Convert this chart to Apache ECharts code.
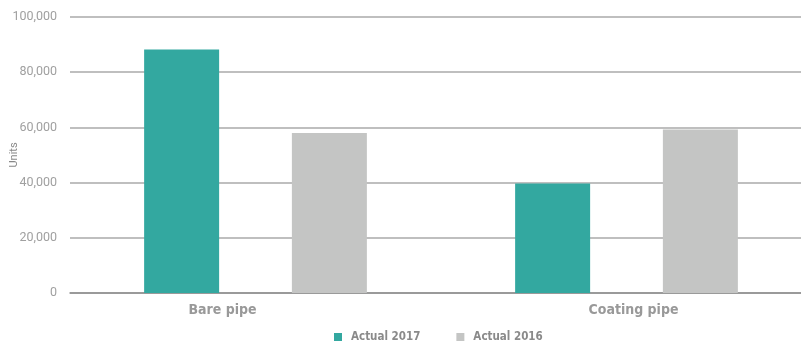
<!DOCTYPE html>
<html>
<head>
<meta charset="utf-8">
<script src="https://cdn.jsdelivr.net/npm/echarts@6/dist/echarts.min.js"></script>
<style>
  html, body { margin: 0; padding: 0; background: #fff; }
  #chart { width: 801px; height: 341px; }
</style>
</head>
<body>
<div id="chart"></div>
<script>
// Units by product type, 2017 vs 2016
const categories = ['Bare pipe', 'Coating pipe'];
const actual2017 = [88200, 39700];
const actual2016 = [58000, 59200];
const yTicks = [0, 20000, 40000, 60000, 80000, 100000];

const teal = '#33A8A0';
const grey = '#C4C5C4';
const condensed = '"Liberation Sans Narrow", "DejaVu Sans Condensed", "Roboto Condensed", sans-serif';

const chart = echarts.init(document.getElementById('chart'));
chart.setOption({
  animation: false,
  grid: { left: 70, right: -11, top: 17, bottom: 48, containLabel: false, outerBoundsMode: 'none' },
  legend: {
    data: ['Actual 2017', 'Actual 2016'],
    top: 331,
    left: 334,
    padding: 0,
    itemWidth: 8,
    itemHeight: 8,
    itemGap: 36,
    icon: 'rect',
    textStyle: { fontFamily: condensed, fontWeight: 'bold', fontSize: 11.5, color: '#8a8a8a', padding: [0, 0, 0, 4] }
  },
  xAxis: {
    type: 'category',
    data: categories,
    axisLine: { lineStyle: { color: '#8f8f8f', width: 1.5 } },
    axisTick: { inside: true, length: 5, lineStyle: { color: '#8f8f8f' } },
    axisLabel: {
      margin: 10,
      formatter: function (v, i) { return '{c' + i + '|' + v + '}'; },
      rich: {
        c0: { fontFamily: condensed, fontWeight: 'bold', fontSize: 14, color: '#999', padding: [0, 66, 0, 0] },
        c1: { fontFamily: condensed, fontWeight: 'bold', fontSize: 14, color: '#999', padding: [0, 0, 0, 14] }
      }
    }
  },
  yAxis: {
    type: 'value',
    min: yTicks[0],
    max: yTicks[yTicks.length - 1],
    interval: yTicks[1] - yTicks[0],
    name: 'Units',
    nameLocation: 'middle',
    nameGap: 50,
    nameMoveOverlap: false,
    nameTextStyle: { fontFamily: 'Roboto, sans-serif', fontSize: 11, color: '#888' },
    axisLine: { show: false },
    axisTick: { show: false },
    axisLabel: {
      margin: 13,
      fontFamily: 'Roboto, "Open Sans", sans-serif',
      fontSize: 12.5,
      color: '#a0a0a0',
      formatter: function (v) { return v.toLocaleString('en-US'); }
    },
    splitLine: { lineStyle: { color: '#aaaaaa', width: 1.5 } }
  },
  series: [
    { name: 'Actual 2017', type: 'bar', data: actual2017, barWidth: 75, barGap: '97%', itemStyle: { color: teal } },
    { name: 'Actual 2016', type: 'bar', data: actual2016, barWidth: 75, itemStyle: { color: grey } }
  ]
});
</script>
</body>
</html>
